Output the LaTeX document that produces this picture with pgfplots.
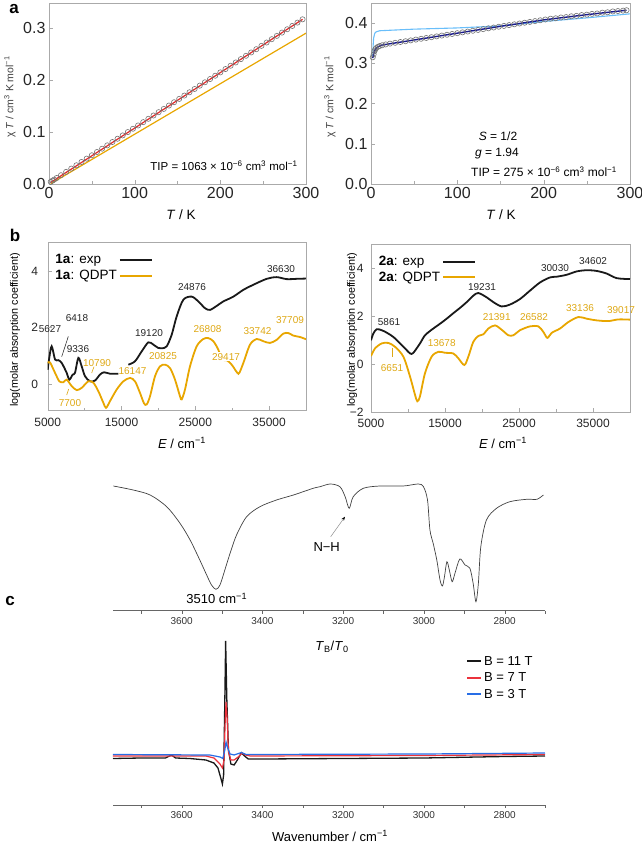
\documentclass[border=0pt]{standalone}
\usepackage{pgfplots}
\pgfplotsset{compat=1.18}
\usetikzlibrary{arrows.meta}
\usepackage{fontspec}
\setmainfont{Liberation Sans}
\newcommand\fs[1]{\fontsize{#1}{#1}\selectfont}
\definecolor{gold}{RGB}{232,166,0}
\definecolor{goldtxt}{RGB}{222,168,20}
\definecolor{fitred}{RGB}{228,40,40}
\definecolor{navyb}{RGB}{25,25,140}
\definecolor{skyb}{RGB}{105,190,250}
\definecolor{framec}{RGB}{170,170,170}
\definecolor{bred}{RGB}{235,50,60}
\definecolor{bblue}{RGB}{40,110,230}
\pgfplotsset{
 myframe/.style={scale only axis, anchor=south west, axis line style={framec},
   tick style={framec}, tick align=inside, tick pos=left,
   /pgf/number format/assume math mode=true, ticklabel style={text=black!85},
   scaled ticks=false},
 irax/.style={scale only axis, anchor=south west, x dir=reverse,
   axis x line=bottom, axis y line=none, x axis line style={-, black!60},
   xmin=2700, xmax=3770, xtick={2800,3000,3200,3400,3600},
   minor xtick={2700,2900,3100,3300,3500,3700},
   tick align=outside, tick style={black!60}, major tick length=3pt, minor tick length=3pt,
   /pgf/number format/assume math mode=true, scaled ticks=false,
   xticklabel style={font=\fs{10}, text=black!80, /pgf/number format/1000 sep={}},
   clip=false},
}
\begin{document}
\begin{tikzpicture}
\path[use as bounding box] (0,0) rectangle (642pt,844pt);

% ---------- a left ----------
\begin{axis}[myframe, at={(49pt,660pt)}, width=257pt, height=181pt,
  xmin=0, xmax=300, ymin=0, ymax=0.348,
  xtick={0,100,200,300}, minor xtick={50,150,250},
  ytick={0,0.1,0.2,0.3}, yticklabels={0.0,0.1,0.2,0.3},
  ticklabel style={font=\fs{16}}]
\addplot[only marks, mark=o, mark size=2.6pt, black!55, line width=0.6pt] coordinates {
(2,0.0041)(4,0.0063)(6,0.0084)(9,0.0116)(14,0.0169)(20,0.0233)(26,0.0296)(32,0.0360)
(38,0.0424)(44,0.0488)(50,0.0552)(56,0.0615)(62,0.0679)(68,0.0743)(74,0.0807)(80,0.0870)
(86,0.0934)(92,0.0998)(98,0.1062)(104,0.1126)(110,0.1189)(116,0.1253)(122,0.1317)(128,0.1381)
(134,0.1444)(140,0.1508)(146,0.1572)(152,0.1636)(158,0.1700)(164,0.1763)(170,0.1827)(176,0.1891)
(182,0.1955)(188,0.2018)(194,0.2082)(200,0.2146)(206,0.2210)(212,0.2274)(218,0.2337)(224,0.2401)
(230,0.2465)(236,0.2529)(242,0.2592)(248,0.2656)(254,0.2720)(260,0.2784)(266,0.2848)(272,0.2911)
(278,0.2975)(284,0.3039)(290,0.3103)(296,0.3166)};
\addplot[gold, line width=1.2pt] coordinates {(2,0.0005)(300,0.290)};
\addplot[fitred, line width=1.2pt] coordinates {(2,0.003)(296,0.3166)};
\end{axis}

% ---------- a right ----------
\begin{axis}[myframe, at={(371pt,660pt)}, width=259pt, height=181pt,
  xmin=0, xmax=300, ymin=0, ymax=0.45,
  xtick={0,100,200,300}, minor xtick={50,150,250},
  ytick={0,0.1,0.2,0.3,0.4}, yticklabels={0.0,0.1,0.2,0.3,0.4},
  ticklabel style={font=\fs{16}}]
\addplot[only marks, mark=o, mark size=2.6pt, black!55, line width=0.6pt] coordinates {
(2,0.315)(3,0.322)(4,0.330)(5,0.335)(6,0.338)(8,0.341)(10,0.343)(13,0.345)(17,0.347)
(22,0.349)(28,0.351)(34,0.353)(40,0.355)(46,0.357)(52,0.359)(58,0.361)(64,0.363)(70,0.365)
(76,0.367)(82,0.369)(88,0.371)(94,0.373)(100,0.375)(106,0.377)(112,0.379)(118,0.381)
(124,0.383)(130,0.385)(136,0.387)(142,0.389)(148,0.391)(154,0.393)(160,0.395)(166,0.397)
(172,0.399)(178,0.401)(184,0.403)(190,0.405)(196,0.407)(202,0.409)(208,0.411)(214,0.412)
(220,0.414)(226,0.415)(232,0.417)(238,0.418)(244,0.420)(250,0.421)(256,0.423)(262,0.424)
(268,0.426)(274,0.427)(280,0.429)(286,0.430)(292,0.431)(296,0.432)};
\addplot[skyb, line width=1.1pt] coordinates {(2,0.318)(2.5,0.345)(3,0.362)(4,0.372)(5,0.377)
(7,0.379)(10,0.381)(50,0.385)(100,0.388)(150,0.393)(200,0.404)(250,0.413)(300,0.423)};
\addplot[navyb, line width=1.4pt] coordinates {(2,0.313)(3,0.322)(4,0.330)(6,0.338)(8,0.341)
(12,0.345)(20,0.348)(50,0.358)(100,0.375)(150,0.392)(200,0.408)(250,0.421)(296,0.432)};
\end{axis}

% ---------- b left ----------
\begin{axis}[myframe, at={(47.7pt,433.3pt)}, width=258.3pt, height=168pt,
  xmin=5000, xmax=40000, ymin=-0.95, ymax=5,
  xtick={5000,15000,25000,35000}, minor xtick={10000,20000,30000},
  xticklabels={5000,15000,25000,35000},
  ytick={0,2,4}, yticklabels={0,2,4},
  ticklabel style={font=\fs{12}},
  yticklabel style={xshift=-6pt}, xticklabel style={yshift=-4pt},
  legend style={at={(axis description cs:0.01,0.955)}, anchor=north west, draw=none, fill=none,
    font=\fs{13.5}, row sep=1pt, /tikz/every even column/.append style={column sep=8pt}},
  legend plot pos=right, legend cell align=left,
  legend image code/.code={\draw[#1,line width=2pt] (0pt,0pt) -- (32pt,0pt);}]
\addplot[black!90, line width=1.8pt, smooth] coordinates {
(5000,0.5)(5200,0.9)(5540,1.33)(6000,0.86)(6445,0.84)(6900,0.74)(7575,0.39)(7935,0.15)
(8390,0.33)(8700,0.39)(9155,0.92)(9606,0.62)(10060,0.27)(10735,0.09)(11413,0.12)(12090,0.33)
(12632,0.41)(13445,0.36)(14574,0.36)};
\addlegendentry{\textbf{1a}: exp}
\addplot[gold, line width=1.8pt, smooth] coordinates {
(5000,0.74)(5316,0.76)(5994,0.39)(6581,0.09)(7123,0.06)(7574,0.15)(8252,-0.08)(8929,-0.22)
(9606,-0.14)(10510,0.09)(11187,0.04)(11864,-0.26)(12542,-0.67)(12903,-0.85)(13445,-0.61)
(14348,-0.2)(15251,0.09)(16154,0.21)(16832,0.09)(17509,-0.32)(18051,-0.69)(18412,-0.73)
(18864,-0.44)(19541,0.27)(20218,0.62)(20896,0.68)(21574,0.56)(22251,0.15)(22928,-0.44)
(23154,-0.55)(23606,-0.2)(24283,0.62)(25186,1.33)(26089,1.59)(26767,1.62)(27445,1.51)
(28122,1.21)(28574,0.86)(29251,0.84)(29929,0.68)(30697,0.39)(30968,0.39)(31510,0.74)
(32413,1.39)(33316,1.59)(34219,1.51)(35122,1.45)(36025,1.56)(36928,1.78)(37605,1.80)
(38283,1.71)(39186,1.66)(40000,1.58)};
\addlegendentry{\textbf{1a}: QDPT}
\addplot[black!90, line width=1.8pt, smooth, forget plot] coordinates {
(15929,0.68)(16832,0.80)(17735,1.15)(18638,1.47)(19316,1.39)(19993,1.27)(20500,1.26)
(21122,1.33)(21800,1.74)(22477,2.39)(23380,2.98)(24509,3.09)(25412,2.92)(26315,2.68)
(26993,2.62)(27896,2.76)(28800,2.92)(30155,3.09)(31510,3.33)(32864,3.51)(34670,3.72)
(36025,3.78)(37380,3.71)(38734,3.72)(40000,3.73)};
\end{axis}

% ---------- b right ----------
\begin{axis}[myframe, at={(371pt,431.7pt)}, width=259pt, height=168pt,
  xmin=5000, xmax=40000, ymin=-2, ymax=5,
  xtick={5000,15000,25000,35000}, minor xtick={10000,20000,30000},
  xticklabels={5000,15000,25000,35000},
  ytick={-2,0,2,4}, yticklabels={−2,0,2,4},
  ticklabel style={font=\fs{12}},
  yticklabel style={xshift=-4pt}, xticklabel style={yshift=-3pt},
  legend style={at={(axis description cs:0.01,0.955)}, anchor=north west, draw=none, fill=none,
    font=\fs{13.5}, row sep=1pt, /tikz/every even column/.append style={column sep=8pt}},
  legend plot pos=right, legend cell align=left,
  legend image code/.code={\draw[#1,line width=2pt] (0pt,0pt) -- (32pt,0pt);}]
\addplot[black!90, line width=1.8pt, smooth] coordinates {
(5000,1.0)(5315,1.28)(5766,1.46)(6442,1.42)(7117,1.32)(8018,1.14)(8919,0.87)(9820,0.59)
(10300,0.45)(10700,0.47)(11622,0.87)(12298,1.21)(13199,1.44)(14325,1.69)(15226,1.90)
(16127,2.13)(17028,2.35)(17929,2.59)(18830,2.86)(19500,2.97)(20632,2.79)(21533,2.59)
(22659,2.41)(23786,2.49)(25137,2.72)(26488,3.07)(27840,3.41)(29191,3.62)(30092,3.65)
(31444,3.73)(32795,3.87)(34147,3.92)(35498,3.89)(36850,3.78)(38201,3.59)(40000,3.55)};
\addlegendentry{\textbf{2a}: exp}
\addplot[gold, line width=1.8pt, smooth] coordinates {
(5000,0.34)(5541,0.66)(6442,0.87)(7342,0.89)(8243,0.73)(9370,0.32)(10271,-0.51)(10946,-1.27)
(11262,-1.54)(11622,-1.33)(12298,-0.37)(13199,0.32)(14100,0.52)(15001,0.48)(16127,0.45)
(16803,0.25)(17614,-0.03)(18154,0.32)(18830,0.94)(19506,1.18)(20182,1.25)(20858,1.49)
(21759,1.62)(22659,1.44)(23560,1.21)(24236,1.21)(25137,1.42)(26488,1.58)(27614,1.58)
(28290,1.35)(28830,1.10)(29416,1.31)(30542,1.49)(31669,1.76)(33020,1.97)(34147,1.90)
(35498,1.83)(37075,1.80)(38426,1.87)(40000,1.86)};
\addlegendentry{\textbf{2a}: QDPT}
\end{axis}

% ---------- c top (IR) ----------
\begin{axis}[irax, at={(113pt,233.3pt)}, width=432pt, height=130pt, ymin=0, ymax=130]
\addplot[black!75, line width=0.7pt, smooth] coordinates {
(3769,124.7)(3720,120.7)(3678,115.7)(3637,104)(3604,87.4)(3579,70.7)(3555,50.7)(3538,35.7)
(3526,25.7)(3515,21.4)(3505,25.7)(3493,40.7)(3480,57.4)(3464,75.7)(3439,94)(3406,104)
(3365,110.7)(3323,115.7)(3274,122.4)(3257,124)(3232,126.7)(3208,124)(3195,114)(3185,102.4)
(3175,114)(3150,122.4)(3109,124.7)(3051,124.7)(3014,126.7)(3001,124)(2991,110.7)(2985,80.7)
(2977,67.4)(2968,50.7)(2960,30.7)(2954,24.7)(2949,34)(2943,49)(2937,40.7)(2930,29)
(2923,37.4)(2911,51.7)(2898,45.7)(2886,42.4)(2878,27.4)(2871,9)(2865,27.4)(2859,64)
(2845,90.7)(2820,102.4)(2787,109)(2745,111.4)(2720,111.4)(2704,115.7)};
\end{axis}

% ---------- c bottom ----------
\begin{axis}[irax, at={(113pt,39pt)}, width=432pt, height=170pt, ymin=0, ymax=170,
  legend style={at={(axis description cs:0.81,0.90)}, anchor=north west, draw=none, fill=none,
    font=\fs{13}, row sep=2pt},
  legend cell align=left,
  legend image code/.code={\draw[#1,line width=2pt] (0pt,0pt) -- (14pt,0pt);}]
\addplot[black!90, line width=1.3pt] coordinates {
(3770,46.5)(3700,47)(3640,47)(3625,50)(3615,47)(3580,46.5)(3540,45)(3520,42)(3510,37)
(3503,27)(3499,21)(3496,30)(3493,105)(3491,164)(3488,105)(3484,55)(3478,41)(3470,40)
(3462,45)(3452,52.3)(3444,49)(3435,46)(3400,46)(3200,46.5)(3000,47)(2800,48.5)(2700,49)};
\addlegendentry{B = 11 T}
\addplot[bred, line width=1.2pt] coordinates {
(3770,49)(3540,49)(3520,47)(3505,41)(3499,37)(3495,45)(3492,85)(3490,103)(3487,85)(3484,53)
(3478,45)(3470,45)(3460,48)(3450,52)(3442,50)(3430,49)(3000,49.5)(2700,50.5)};
\addlegendentry{B = 7 T}
\addplot[bblue, line width=1.2pt] coordinates {
(3770,50.5)(3530,50)(3505,48)(3498,46.5)(3493,55)(3490,63)(3486,57)(3480,51)(3470,50)
(3452,52.5)(3440,50.5)(3000,51)(2700,52)};
\addlegendentry{B = 3 T}
\end{axis}

% ---------- annotations ----------
\begin{scope}[x=1pt,y=-1pt,yshift=844pt]
\node[font=\fs{17}\bfseries] at (14,9) {a};
\node[font=\fs{17}\bfseries] at (15,235) {b};
\node[font=\fs{17}\bfseries] at (10,601) {c};
% a
\node[rotate=90, font=\fs{10.5}, text=black!75] at (10,97) {χ \textit{T} / cm\textsuperscript{3} K mol\textsuperscript{−1}};
\node[rotate=90, font=\fs{10.5}, text=black!75] at (330,97) {χ \textit{T} / cm\textsuperscript{3} K mol\textsuperscript{−1}};
\node[font=\fs{13.5}] at (181,215) {\textit{T} / K};
\node[font=\fs{13.5}] at (501,215) {\textit{T} / K};
\node[font=\fs{11.5}] at (224,166) {TIP = 1063 × 10\textsuperscript{−6} cm\textsuperscript{3} mol\textsuperscript{−1}};
\node[font=\fs{12}] at (498,136) {\textit{S} = 1/2};
\node[font=\fs{12}] at (497,154) {\textit{g} = 1.94};
\node[font=\fs{12}] at (544,172) {TIP = 275 × 10\textsuperscript{−6} cm\textsuperscript{3} mol\textsuperscript{−1}};
% b
\node[rotate=90, font=\fs{10.8}] at (15,330) {log(molar absorption coefficient)};
\node[rotate=90, font=\fs{10.8}] at (352,330) {log(molar absorption coefficient)};
\node[font=\fs{13}] at (182,443) {\textit{E} / cm\textsuperscript{−1}};
\node[font=\fs{13}] at (503,443) {\textit{E} / cm\textsuperscript{−1}};
\begin{scope}[font=\fs{10}, text=black!85]
\node at (50,329) {5627};
\node at (77,318) {6418};
\node at (78,349) {9336};
\node at (149,333) {19120};
\node at (192,287) {24876};
\node at (281,269) {36630};
\node at (389,322) {5861};
\node at (482,287) {19231};
\node at (555,268) {30030};
\node at (593,261) {34602};
\end{scope}
\draw[black!80, line width=0.6pt] (61.7,356.7) -- (68.3,336.5);
\begin{scope}[font=\fs{10}, text=goldtxt]
\node at (97,363) {10790};
\node at (70,403) {7700};
\node at (132.5,370.7) {16147};
\node at (163,356) {20825};
\node at (207.5,329) {26808};
\node[fill=white, inner sep=0.8pt] at (226,356.7) {29417};
\node at (257.5,331) {33742};
\node at (290,320) {37709};
\node at (392,368) {6651};
\node at (441.7,342.7) {13678};
\node at (496.7,317) {21391};
\node at (534,317) {26582};
\node at (580,308) {33136};
\node at (621,310) {39017};
\end{scope}
\draw[goldtxt, line width=0.6pt] (91.7,373) -- (94,366.7);
\draw[goldtxt, line width=0.6pt] (66.7,395) -- (68.7,389);
\draw[goldtxt, line width=0.6pt] (392.7,348) -- (392.7,356.7);
% c
\node[font=\fs{13}] at (216.7,598.3) {3510 cm\textsuperscript{−1}};
\node[font=\fs{13}] at (326.7,546.7) {N−H};
\draw[black!45, line width=0.5pt, -{Stealth[length=4pt, width=3pt, black]}] (330.7,536.7) -- (345,516.7);
\node[font=\fs{13}] at (332,647) {\textit{T}\textsubscript{B}/\textit{T}\textsubscript{0}};
\node[font=\fs{13}] at (330,836) {Wavenumber / cm\textsuperscript{−1}};
\end{scope}
\end{tikzpicture}
\end{document}
